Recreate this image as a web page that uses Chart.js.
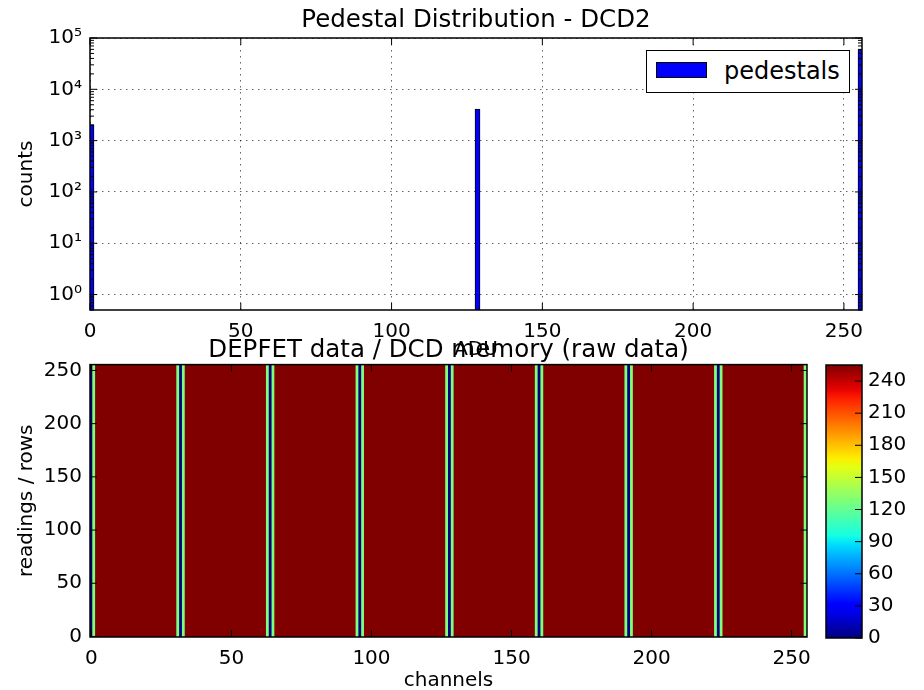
<!DOCTYPE html>
<html>
<head>
<meta charset="utf-8">
<script src="https://cdn.jsdelivr.net/npm/chart.js@4.4.0/dist/chart.umd.min.js"></script>
<style>
  body { margin: 0; background: #fff; width: 924px; height: 690px; position: relative; overflow: hidden; font-family: "DejaVu Sans", sans-serif; }
  canvas { position: absolute; }
  #legend { position: absolute; left: 646px; top: 50px; width: 202px; height: 41px; border: 1.5px solid #000; background: #fff; }
  #legendPatch { position: absolute; left: 9px; top: 11px; width: 49px; height: 14px; border: 1px solid #000; }
  #legendText { position: absolute; left: 77px; top: 0; line-height: 41px; font-size: 24px; color: #000; }
</style>
</head>
<body>
<canvas id="hist" width="924" height="362" style="left:0;top:0"></canvas>
<canvas id="raw" width="924" height="363" style="left:0;top:330px"></canvas>
<canvas id="cbar" width="144" height="360" style="left:780px;top:330px"></canvas>
<div id="legend"><span id="legendPatch"></span><span id="legendText"></span></div>
<script>
// pedestal histogram: bin left edge (ADU) and counts
const pedestalBins = [0, 128, 255]
const pedestalCounts = [2048, 4096, 59392]
const countTicks = [1, 10, 100, 1000, 10000, 100000]

// raw data map, every row reads the same value per channel
const rowCount = 256
const channels = Array.from({ length: 256 }, (_, i) => i)
const zeroChannels = [0, 32, 64, 96, 128, 160, 192, 224]
const midChannels = [1, 31, 33, 63, 65, 95, 97, 127, 129, 159, 161, 191, 193, 223, 225, 255]
const zeroValue = 0
const midValue = 128
const highValue = 255
const colorbarTicks = [0, 30, 60, 90, 120, 150, 180, 210, 240]

const channelValues = channels.map(function (c) {
  if (zeroChannels.includes(c)) return zeroValue
  if (midChannels.includes(c)) return midValue
  return highValue
})

Chart.defaults.font.family = "DejaVu Sans"
Chart.defaults.font.size = 20
Chart.defaults.color = "#000"

// matplotlib jet colormap
const jetData = {
  r: [[0, 0], [0.35, 0], [0.66, 1], [0.89, 1], [1, 0.5]],
  g: [[0, 0], [0.125, 0], [0.375, 1], [0.64, 1], [0.91, 0], [1, 0]],
  b: [[0, 0.5], [0.11, 1], [0.34, 1], [0.65, 0], [1, 0]],
}
function interp(pts, t) {
  for (let i = 1; i < pts.length; i++) {
    if (t <= pts[i][0]) {
      const f = (t - pts[i - 1][0]) / (pts[i][0] - pts[i - 1][0])
      return pts[i - 1][1] + f * (pts[i][1] - pts[i - 1][1])
    }
  }
  return pts[pts.length - 1][1]
}
function jet(v) {
  const t = Math.min(1, Math.max(0, v / 255))
  const r = Math.round(interp(jetData.r, t) * 255)
  const g = Math.round(interp(jetData.g, t) * 255)
  const b = Math.round(interp(jetData.b, t) * 255)
  return "rgb(" + r + "," + g + "," + b + ")"
}

const supDigits = "⁰¹²³⁴⁵⁶⁷⁸⁹"
function powerLabel(v) {
  const e = Math.round(Math.log10(v))
  return "10" + String(e).split("").map(d => supDigits[+d]).join("")
}

// box around the plot area plus inward tick marks, like matplotlib
const framePlugin = {
  id: "frame",
  afterDatasetsDraw(chart, args, opts) {
    const ctx = chart.ctx
    const a = chart.chartArea
    ctx.save()
    ctx.strokeStyle = "#000"
    ctx.lineWidth = 1
    Object.values(chart.scales).forEach(function (s) {
      if (!s.options.display) return
      const both = opts.bothSides !== false
      const marks = s.ticks.map(t => [t.value, 7])
      if (s.type === "logarithmic") {
        for (let k = -1; k < 5; k++) {
          for (let m = 2; m < 10; m++) {
            const v = m * Math.pow(10, k)
            if (v >= s.min && v <= s.max) marks.push([v, 4])
          }
        }
      }
      marks.forEach(function (mk) {
        const p = s.getPixelForValue(mk[0])
        ctx.beginPath()
        if (s.isHorizontal()) {
          ctx.moveTo(p, a.bottom); ctx.lineTo(p, a.bottom - mk[1])
          if (both) { ctx.moveTo(p, a.top); ctx.lineTo(p, a.top + mk[1]) }
        } else {
          if (both) { ctx.moveTo(a.left, p); ctx.lineTo(a.left + mk[1], p) }
          ctx.moveTo(a.right, p); ctx.lineTo(a.right - mk[1], p)
        }
        ctx.stroke()
      })
    })
    ctx.lineWidth = 1.5
    ctx.strokeRect(a.left, a.top, a.right - a.left, a.bottom - a.top)
    ctx.restore()
  },
}

const dotted = { display: false, dash: [1.5, 4.5] }
const gridStyle = { drawTicks: false, offset: false, color: "rgba(0,0,0,0.6)", lineWidth: 1 }

var histChart = new Chart(document.getElementById("hist"), {
  type: "bar",
  data: {
    datasets: [
      {
        label: "pedestals",
        data: pedestalBins.map((b, i) => ({ x: b + 0.5, y: pedestalCounts[i] })),
        backgroundColor: "#0000ff",
        borderColor: "#000",
        borderWidth: 1,
        borderSkipped: false,
        barThickness: 5,
      },
    ],
  },
  options: {
    responsive: false,
    animation: false,
    layout: { padding: { left: 0, right: 62, top: 0, bottom: 0 } },
    plugins: {
      legend: { display: false },
      tooltip: { enabled: false },
      title: {
        display: true,
        fullSize: false,
        text: "Pedestal Distribution - DCD2",
        font: { size: 24.5, weight: "normal", lineHeight: 1 },
        color: "#000",
        padding: { top: 8, bottom: 5.5 },
      },
    },
    scales: {
      x: {
        type: "linear",
        min: 0,
        max: 256,
        offset: false,
        ticks: { stepSize: 50, includeBounds: false, maxRotation: 0, autoSkip: false, padding: 10 },
        grid: gridStyle,
        border: dotted,
        title: { display: true, text: "ADU", padding: { top: 0, bottom: 0 } },
        afterFit: s => { s.height = 52 },
      },
      y: {
        type: "logarithmic",
        min: 0.5,
        max: 100000,
        afterBuildTicks: s => { s.ticks = countTicks.map(v => ({ value: v })) },
        ticks: { callback: v => powerLabel(v), padding: 8, autoSkip: false },
        grid: gridStyle,
        border: dotted,
        title: { display: true, text: "counts", padding: { top: 15, bottom: 0 } },
        afterFit: s => { s.width = 90 },
      },
    },
  },
  plugins: [framePlugin],
})

var rawChart = new Chart(document.getElementById("raw"), {
  type: "bar",
  data: {
    datasets: [
      {
        label: "raw data",
        data: channels.map(c => ({ x: c, y: [-0.5, rowCount - 0.5] })),
        backgroundColor: channelValues.map(jet),
        borderWidth: 0,
        barPercentage: 1,
        categoryPercentage: 1,
        inflateAmount: 0.5,
      },
    ],
  },
  options: {
    responsive: false,
    animation: false,
    layout: { padding: { left: 0, right: 117, top: 0, bottom: 0 } },
    plugins: {
      legend: { display: false },
      tooltip: { enabled: false },
      title: {
        display: true,
        fullSize: false,
        text: "DEPFET data / DCD memory (raw data)",
        font: { size: 24.5, weight: "normal", lineHeight: 1 },
        color: "#000",
        padding: { top: 8.5, bottom: 1.6 },
      },
    },
    scales: {
      x: {
        type: "linear",
        min: -0.5,
        max: 255.5,
        offset: false,
        ticks: { stepSize: 50, includeBounds: false, maxRotation: 0, autoSkip: false, padding: 10 },
        grid: { display: false, drawTicks: false, offset: false },
        border: { display: false },
        title: { display: true, text: "channels", padding: { top: 0, bottom: 0 } },
        afterFit: s => { s.height = 56 },
      },
      y: {
        type: "linear",
        min: -0.5,
        max: rowCount - 0.5,
        ticks: { stepSize: 50, includeBounds: false, autoSkip: false, padding: 8 },
        grid: { display: false, drawTicks: false },
        border: { display: false },
        title: { display: true, text: "readings / rows", padding: { top: 15, bottom: 0 } },
        afterFit: s => { s.width = 90 },
      },
    },
  },
  plugins: [framePlugin],
})

var cbarChart = new Chart(document.getElementById("cbar"), {
  type: "bar",
  data: {
    labels: [""],
    datasets: [
      {
        data: [[zeroValue, highValue]],
        backgroundColor: function (ctx) {
          const chart = ctx.chart
          if (!chart.chartArea) return jet(highValue)
          const ys = chart.scales.y
          const g = chart.ctx.createLinearGradient(0, ys.getPixelForValue(zeroValue), 0, ys.getPixelForValue(highValue))
          for (let i = 0; i <= 32; i++) g.addColorStop(i / 32, jet((i / 32) * 255))
          return g
        },
        borderWidth: 0,
        barPercentage: 1,
        categoryPercentage: 1,
      },
    ],
  },
  options: {
    responsive: false,
    animation: false,
    layout: { padding: { left: 46, right: 0, top: 35, bottom: 52 } },
    plugins: {
      legend: { display: false },
      tooltip: { enabled: false },
      frame: { bothSides: false },
    },
    scales: {
      x: { display: false },
      y: {
        position: "right",
        min: zeroValue,
        max: highValue,
        afterBuildTicks: s => { s.ticks = colorbarTicks.map(v => ({ value: v })) },
        ticks: { padding: 6, autoSkip: false },
        grid: { display: false, drawTicks: false },
        border: { display: false },
        afterFit: s => { s.width = 62 },
      },
    },
  },
  plugins: [framePlugin],
})

const legendDs = histChart.data.datasets[0]
document.getElementById("legendText").textContent = legendDs.label
document.getElementById("legendPatch").style.background = legendDs.backgroundColor
</script>
</body>
</html>
